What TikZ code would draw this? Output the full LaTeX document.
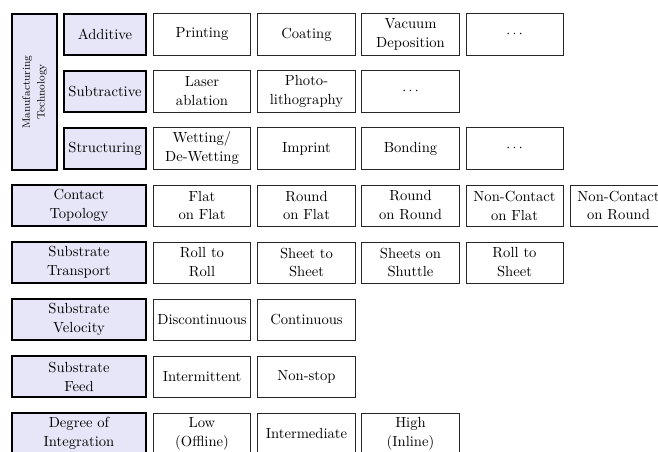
\documentclass[tikz,border=0pt]{standalone}
\definecolor{catfill}{RGB}{230,230,248}
\begin{document}
\begin{tikzpicture}[x=0.025cm, y=-0.025cm,
        every node/.style={font=\fontsize{10.4}{13.5}\selectfont, inner sep=1pt, align=center},
        category/.style={draw=black, line width=1.1pt, fill=catfill, minimum height=1.025cm},
        wide/.style={category, minimum width=3.35cm},
        sub/.style={category, minimum width=2.05cm},
        option/.style={draw=black!85, line width=0.7pt, minimum width=2.425cm, minimum height=1.025cm}]
        \useasboundingbox (0, 0) rectangle (658, 452);

        % manufacturing technology
        \node[category, rotate=90, minimum width=3.9cm, minimum height=1.125cm, font=\fontsize{7.6}{10.5}\selectfont] (manufacturing) at (34.5, 92) {Manufacturing\\Technology};
        \node[sub] (additive) at (105, 34.5) {Additive};
        \node[sub] (subtractive) at (105, 91.5) {Subtractive};
        \node[sub] (structuring) at (105, 148.5) {Structuring};

        \node[option] (printing) at (202, 34.5) {Printing};
        \node[option] (coating) at (306.5, 34.5) {Coating};
        \node[option] (vacuum) at (410.5, 34.5) {Vacuum\\Deposition};
        \node[option] (additive_more) at (514.5, 34.5) {$\cdots$};

        \node[option] (laser) at (202, 91.5) {Laser\\ablation};
        \node[option] (photo) at (306.5, 91.5) {Photo-\\lithography};
        \node[option] (subtractive_more) at (410.5, 91.5) {$\cdots$};

        \node[option] (wetting) at (202, 148.5) {Wetting/\\De-Wetting};
        \node[option] (imprint) at (306.5, 148.5) {Imprint};
        \node[option] (bonding) at (410.5, 148.5) {Bonding};
        \node[option] (structuring_more) at (514.5, 148.5) {$\cdots$};

        % contact topology
        \node[wide] (topology) at (79, 205.5) {Contact\\Topology};
        \node[option] (flat_flat) at (202, 205.5) {Flat\\on Flat};
        \node[option] (round_flat) at (306.5, 205.5) {Round\\on Flat};
        \node[option] (round_round) at (410.5, 205.5) {Round\\on Round};
        \node[option] (noncontact_flat) at (514.5, 205.5) {Non-Contact\\on Flat};
        \node[option] (noncontact_round) at (618.5, 205.5) {Non-Contact\\on Round};

        % substrate transport
        \node[wide] (transport) at (79, 262.5) {Substrate\\Transport};
        \node[option] (roll_roll) at (202, 262.5) {Roll to\\Roll};
        \node[option] (sheet_sheet) at (306.5, 262.5) {Sheet to\\Sheet};
        \node[option] (sheets_shuttle) at (410.5, 262.5) {Sheets on\\Shuttle};
        \node[option] (roll_sheet) at (514.5, 262.5) {Roll to\\Sheet};

        % substrate velocity
        \node[wide] (velocity) at (79, 319.5) {Substrate\\Velocity};
        \node[option] (discontinuous) at (202, 319.5) {Discontinuous};
        \node[option] (continuous) at (306.5, 319.5) {Continuous};

        % substrate feed
        \node[wide] (feed) at (79, 376.5) {Substrate\\Feed};
        \node[option] (intermittent) at (202, 376.5) {Intermittent};
        \node[option] (nonstop) at (306.5, 376.5) {Non-stop};

        % degree of integration
        \node[wide] (integration) at (79, 433.5) {Degree of\\Integration};
        \node[option] (low) at (202, 433.5) {Low\\(Offline)};
        \node[option] (intermediate) at (306.5, 433.5) {Intermediate};
        \node[option] (high) at (410.5, 433.5) {High\\(Inline)};
    \end{tikzpicture}
\end{document}
